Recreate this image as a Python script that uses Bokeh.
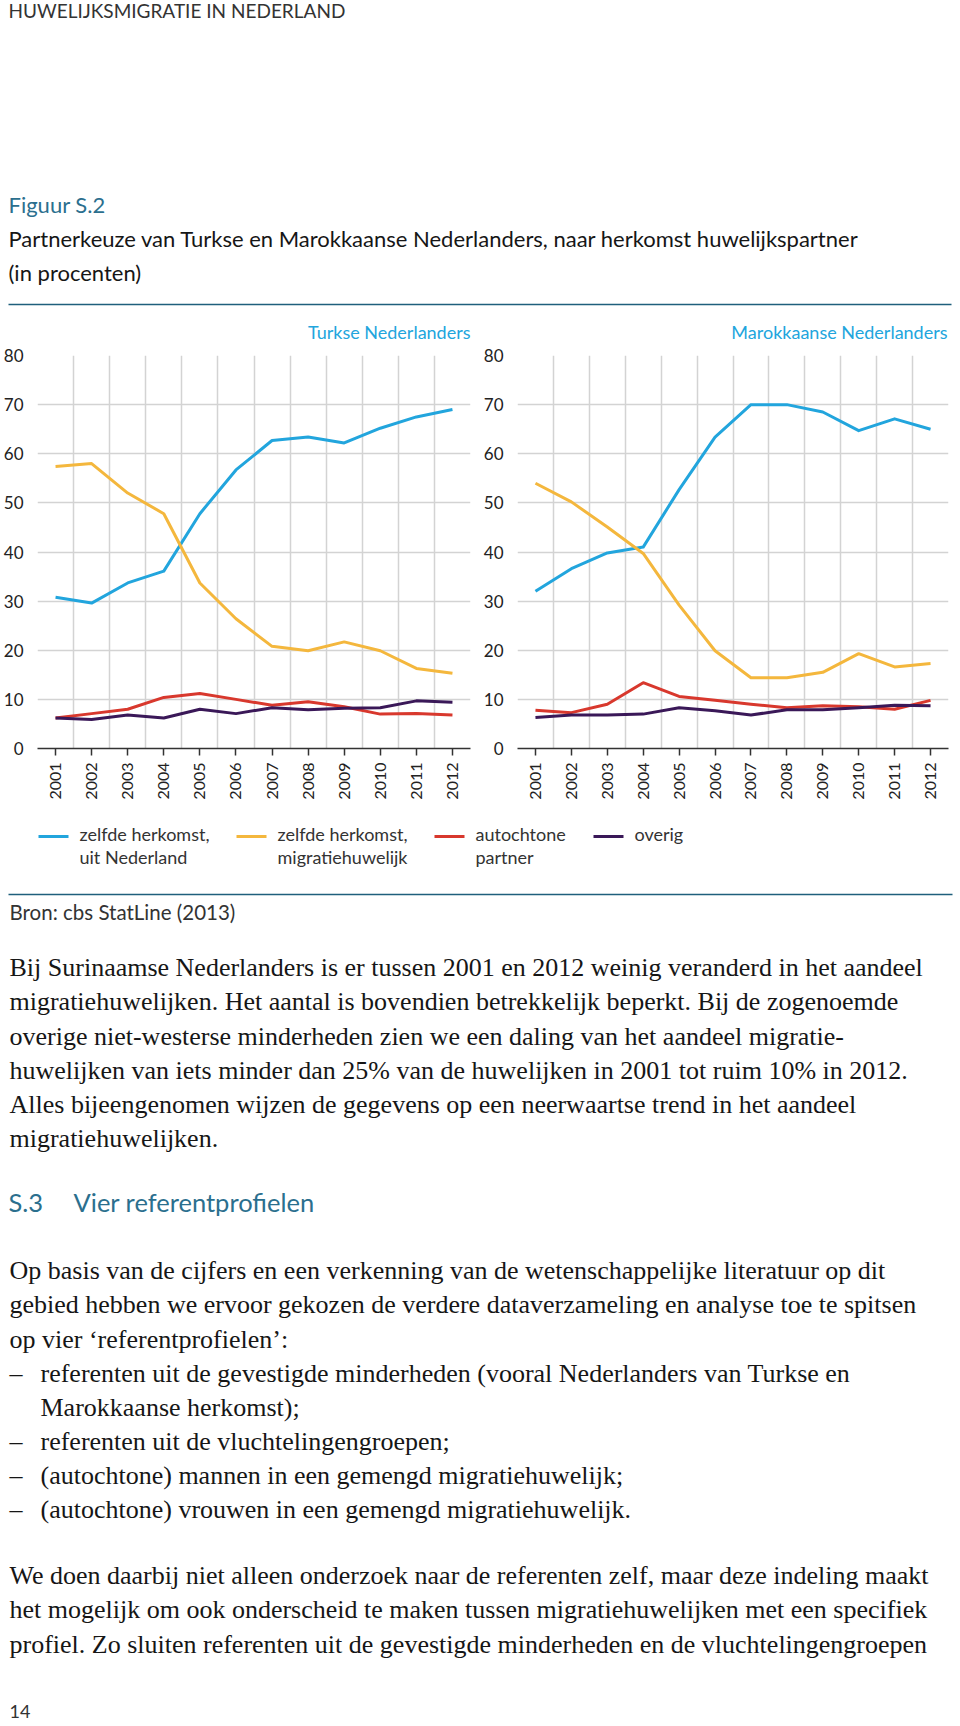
import math
from bokeh.plotting import figure
from bokeh.models import Range1d, FixedTicker, Label
from bokeh.layouts import row
from bokeh.embed import file_html
from bokeh.resources import INLINE

# ---------------- data ----------------
years = [2001, 2002, 2003, 2004, 2005, 2006, 2007, 2008, 2009, 2010, 2011, 2012]
y_ticks = [0, 10, 20, 30, 40, 50, 60, 70, 80]

series_labels = [["zelfde herkomst,", "uit Nederland"], ["zelfde herkomst,", "migratiehuwelijk"],
                 ["autochtone", "partner"], ["overig"]]

turks_nl = [30.8, 29.6, 33.7, 36.1, 47.8, 56.7, 62.7, 63.4, 62.2, 65.2, 67.5, 69.0]
turks_migr = [57.4, 58.0, 52.0, 47.8, 33.7, 26.4, 20.8, 19.9, 21.7, 19.9, 16.3, 15.3]
turks_autoch = [6.2, 7.1, 8.0, 10.4, 11.2, 10.0, 8.8, 9.5, 8.5, 7.0, 7.1, 6.8]
turks_overig = [6.2, 5.9, 6.8, 6.2, 8.0, 7.1, 8.3, 7.9, 8.2, 8.3, 9.7, 9.4]

marok_nl = [32.0, 36.6, 39.8, 41.0, 52.7, 63.4, 70.0, 70.0, 68.5, 64.7, 67.1, 65.0]
marok_migr = [54.0, 50.2, 45.1, 39.7, 29.2, 19.9, 14.4, 14.4, 15.5, 19.3, 16.6, 17.3]
marok_autoch = [7.8, 7.3, 9.0, 13.4, 10.6, 9.8, 9.0, 8.3, 8.7, 8.5, 8.0, 9.8]
marok_overig = [6.3, 6.8, 6.8, 7.0, 8.3, 7.7, 6.8, 7.9, 7.9, 8.3, 8.8, 8.7]

# ---------------- styles ----------------
COLORS = ["#22a5dd", "#f4b73d", "#d8382d", "#3a1858"]
SANS = "Lato"
SERIF = "Liberation Serif"
TEAL = "#2b6f8e"
RULE = "#1f5f7c"
TXT = "#161616"
GRID = "#d3d3d3"
K = 0.45          # baseline correction (fraction of font size)


def lab(p, x, y, s, size, color=TXT, font=SANS, align="left"):
    p.add_layout(Label(x=x, y=y - K * size, text=s, text_font=font,
                       text_font_size=f"{size}px", text_color=color,
                       text_align=align, text_baseline="alphabetic"))


def rule(p, x0, x1, y):
    p.line(x=[x0, x1], y=[y, y], line_color=RULE, line_width=1.5)


def page_fig(height, y0):
    p = figure(width=960, height=height, x_range=Range1d(0, 960),
               y_range=Range1d(y0 + height, y0), output_backend="svg",
               toolbar_location=None, min_border=0, min_border_left=0, min_border_right=0,
               min_border_top=0, min_border_bottom=0, outline_line_color=None,
               x_axis_location=None, y_axis_location=None)
    p.grid.visible = False
    return p


# ---------------- top part ----------------
TOP_H = 342
top = page_fig(TOP_H, 0)
lab(top, 8, 19, "HUWELIJKSMIGRATIE IN NEDERLAND", 19, "#333333")
lab(top, 8, 214, "Figuur S.2", 22, TEAL)
lab(top, 8, 248, "Partnerkeuze van Turkse en Marokkaanse Nederlanders, naar herkomst huwelijkspartner", 22)
lab(top, 8, 282, "(in procenten)", 22)
rule(top, 8, 951, 304)
lab(top, 470, 340, "Turkse Nederlanders", 18, COLORS[0], align="right")
lab(top, 947, 340, "Marokkaanse Nederlanders", 18, COLORS[0], align="right")


# ---------------- charts ----------------
CH_H = 470


def make_chart(data, border_left, border_right):
    p = figure(width=480, height=CH_H, x_range=Range1d(2000.5, 2012.5), y_range=Range1d(0, 80),
               output_backend="svg", toolbar_location=None,
               min_border_left=border_left, min_border_right=border_right,
               min_border_top=355 - TOP_H, min_border_bottom=TOP_H + CH_H - 748,
               outline_line_color=None)
    p.xgrid.ticker = FixedTicker(ticks=[y - 0.5 for y in years] + [years[-1] + 0.5])
    p.ygrid.ticker = FixedTicker(ticks=y_ticks)
    p.grid.grid_line_color = GRID
    p.grid.grid_line_width = 1.5

    xa = p.xaxis[0]
    xa.ticker = FixedTicker(ticks=years)
    xa.major_label_orientation = math.pi / 2
    xa.axis_line_color = "#333333"
    xa.axis_line_width = 1.5
    xa.major_tick_line_color = "#333333"
    xa.major_tick_line_width = 1.5
    xa.major_tick_in = 0
    xa.major_tick_out = 7
    xa.minor_tick_line_color = None
    xa.major_label_standoff = 7
    xa.major_label_text_font = SANS
    xa.major_label_text_font_size = "16px"
    xa.major_label_text_color = "#222222"

    ya = p.yaxis[0]
    ya.ticker = FixedTicker(ticks=y_ticks)
    ya.axis_line_color = None
    ya.major_tick_line_color = None
    ya.minor_tick_line_color = None
    ya.major_label_standoff = 8
    ya.major_label_text_font = SANS
    ya.major_label_text_font_size = "17px"
    ya.major_label_text_color = "#222222"

    for vals, c in zip(data, COLORS):
        p.line(years, vals, line_color=c, line_width=3, line_join="round")
    return p


left = make_chart([turks_nl, turks_migr, turks_autoch, turks_overig], 37, 10)
right = make_chart([marok_nl, marok_migr, marok_autoch, marok_overig], 36, 12)
charts = row(left, right, spacing=0)

# ---------------- bottom part (legend + text) ----------------
Y0 = TOP_H + CH_H
bt = page_fig(1726 - Y0, Y0)

leg_x = [38, 236, 434, 593]
for x, labels, c in zip(leg_x, series_labels, COLORS):
    bt.segment(x0=[x], y0=[836], x1=[x + 30], y1=[836], line_color=c, line_width=3)
    for j, s in enumerate(labels):
        lab(bt, x + 41, 842 + 23 * j, s, 18, "#333333")

rule(bt, 8, 952, 894)
lab(bt, 9, 921, "Bron: cbs StatLine (2013)", 20.5, "#333333")

BODY = 26
para1 = [
    "Bij Surinaamse Nederlanders is er tussen 2001 en 2012 weinig veranderd in het aandeel",
    "migratiehuwelijken. Het aantal is bovendien betrekkelijk beperkt. Bij de zogenoemde",
    "overige niet-westerse minderheden zien we een daling van het aandeel migratie-",
    "huwelijken van iets minder dan 25% van de huwelijken in 2001 tot ruim 10% in 2012.",
    "Alles bijeengenomen wijzen de gegevens op een neerwaartse trend in het aandeel",
    "migratiehuwelijken.",
]
for i, s in enumerate(para1):
    lab(bt, 9, 979 + 34.1 * i, s, BODY, TXT, SERIF)

lab(bt, 8, 1213, "S.3", 25.5, TEAL)
lab(bt, 73, 1213, "Vier referentprofielen", 25.5, TEAL)

para2 = [
    (None, "Op basis van de cijfers en een verkenning van de wetenschappelijke literatuur op dit"),
    (None, "gebied hebben we ervoor gekozen de verdere dataverzameling en analyse toe te spitsen"),
    (None, "op vier \u2018referentprofielen\u2019:"),
    ("\u2013", "referenten uit de gevestigde minderheden (vooral Nederlanders van Turkse en"),
    ("", "Marokkaanse herkomst);"),
    ("\u2013", "referenten uit de vluchtelingengroepen;"),
    ("\u2013", "(autochtone) mannen in een gemengd migratiehuwelijk;"),
    ("\u2013", "(autochtone) vrouwen in een gemengd migratiehuwelijk."),
]
for i, (dash, s) in enumerate(para2):
    y = 1282 + 34.1 * i
    if dash is None:
        lab(bt, 9, y, s, BODY, TXT, SERIF)
    else:
        if dash:
            lab(bt, 9, y, dash, BODY, TXT, SERIF)
        lab(bt, 40, y, s, BODY, TXT, SERIF)

para3 = [
    "We doen daarbij niet alleen onderzoek naar de referenten zelf, maar deze indeling maakt",
    "het mogelijk om ook onderscheid te maken tussen migratiehuwelijken met een specifiek",
    "profiel. Zo sluiten referenten uit de gevestigde minderheden en de vluchtelingengroepen",
]
for i, s in enumerate(para3):
    lab(bt, 9, 1587 + 34.1 * i, s, BODY, TXT, SERIF)

lab(bt, 9, 1719, "14", 18, "#333333")

# separate roots so that the plot frames are not aligned with each other
with open("out.html", "w") as f:
    f.write(file_html([top, charts, bt], INLINE))
